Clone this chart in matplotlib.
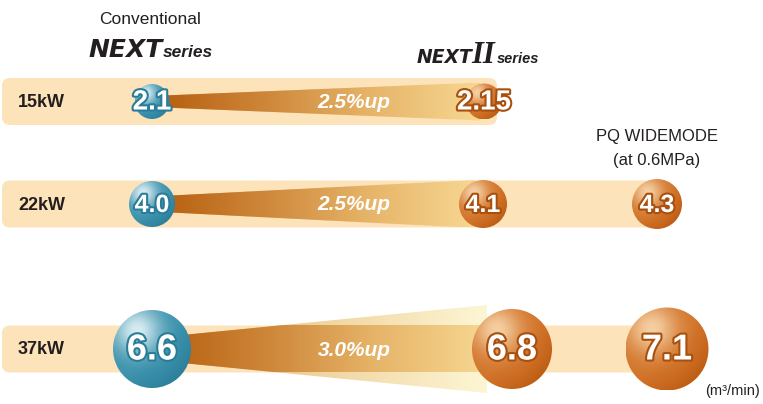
import numpy as np
import matplotlib
matplotlib.use("Agg")
import matplotlib.pyplot as plt
from matplotlib.patches import Circle, Polygon, FancyBboxPatch
import matplotlib.patheffects as pe
from matplotlib.colors import to_rgb

# ---------------- data ----------------
rows = ["15kW", "22kW", "37kW"]
conventional = [2.1, 4.0, 6.6]
next2 = [2.15, 4.1, 6.8]
pq_widemode = [None, 4.3, 7.1]
improvement = ["2.5%up", "2.5%up", "3.0%up"]
unit_label = "(m³/min)"

# ---------------- layout / style ----------------
W, H = 763, 404
col_x = [[152, 484, None], [152, 483, 657], [152, 512, 667]]
row_y = [101.5, 204, 349]
band_half = 23.5
band_end = [497, 655, 645]
radius = [[17.5, 18, 0], [23, 24, 25], [39, 40, 41.5]]
num_fs = [[20, 20, 0], [18, 18, 18], [26, 26, 26]]
wedge_hl = [5.5, 7.5, 11]
wedge_hr = [19, 24, 44]
wedge_x1 = [480, 475, 487]
BAND = "#fde3ba"
DARK = "#231f20"

fig = plt.figure(figsize=(W / 100, H / 100), dpi=100)
ax = fig.add_axes([0, 0, 1, 1])
ax.set_xlim(0, W)
ax.set_ylim(H, 0)
ax.axis("off")

SANS = ["Liberation Sans", "DejaVu Sans"]


def hgrad(colors, n=256):
    cs = np.array([to_rgb(c) for c in colors])
    t = np.linspace(0, 1, n)
    pos = np.linspace(0, 1, len(cs))
    rgb = np.stack([np.interp(t, pos, cs[:, k]) for k in range(3)], axis=-1)
    return rgb[None, :, :]


def sphere(cx, cy, r, base, light, dark, z=5):
    n = 160
    u, v = np.meshgrid(np.linspace(-1, 1, n), np.linspace(-1, 1, n))
    b = np.array(to_rgb(base)); l = np.array(to_rgb(light)); d = np.array(to_rgb(dark))
    dh = np.sqrt((u + 0.38) ** 2 + (v + 0.48) ** 2)
    w = np.exp(-(dh / 0.6) ** 2)[..., None]
    img = b * (1 - w) + l * w
    dd = np.clip((u + v) / 1.6, 0, 1)[..., None] * np.clip(np.sqrt(u**2 + v**2), 0, 1)[..., None]
    img = img * (1 - dd) + d * dd
    circ = Circle((cx, cy), r, transform=ax.transData, facecolor="none", edgecolor="none")
    ax.add_patch(circ)
    im = ax.imshow(img, extent=(cx - r, cx + r, cy + r, cy - r), zorder=z,
                   interpolation="bilinear", aspect="auto")
    im.set_clip_path(circ)


def num_text(x, y, s, fs, stroke):
    ax.text(x, y + 1, s, ha="center", va="center", fontsize=fs, color="white",
            fontweight="bold", family=SANS, zorder=8,
            path_effects=[pe.withStroke(linewidth=3, foreground=stroke)])


def fmt(v):
    return f"{v:.2f}" if round(v, 1) != v else f"{v:.1f}"


for i, row in enumerate(rows):
    yc = row_y[i]
    band = FancyBboxPatch((2, yc - band_half), band_end[i] - 2, 2 * band_half,
                          boxstyle="round,pad=0,rounding_size=8",
                          facecolor=BAND, edgecolor="none", zorder=1)
    ax.add_patch(band)
    x0, x1 = col_x[i][0], wedge_x1[i]
    hl, hr = wedge_hl[i], wedge_hr[i]
    poly = Polygon([(x0, yc - hl), (x1, yc - hr), (x1, yc + hr), (x0, yc + hl)],
                   closed=True, facecolor="none", edgecolor="none", transform=ax.transData)
    ax.add_patch(poly)
    pale = ax.imshow(hgrad(["#d9a060", "#f0d4a0", "#fdf6d4"]),
                     extent=(x0, x1, yc + hr, yc - hr), zorder=2, aspect="auto",
                     interpolation="bilinear")
    pale.set_clip_path(poly)
    strong = ax.imshow(hgrad(["#b55c0c", "#cd8538", "#e6b468", "#f7d792"]),
                       extent=(x0, x1, yc + band_half, yc - band_half), zorder=3,
                       aspect="auto", interpolation="bilinear")
    strong.set_clip_path(poly)

    ax.text(18, yc + 1, row, ha="left", va="center", fontsize=13, fontweight="bold",
            color=DARK, family=SANS, zorder=8)
    ax.text(354, yc + 1, improvement[i], ha="center", va="center", fontsize=15,
            fontweight="bold", fontstyle="italic", color="white", family=SANS, zorder=8)

    sphere(col_x[i][0], yc, radius[i][0], "#3a91ac", "#d8ecf2", "#2a7d98")
    num_text(col_x[i][0], yc, fmt(conventional[i]), num_fs[i][0], "#2a7d98")
    sphere(col_x[i][1], yc, radius[i][1], "#d2742a", "#f5cfa2", "#bb5a10")
    num_text(col_x[i][1], yc, fmt(next2[i]), num_fs[i][1], "#a9500e")
    if pq_widemode[i] is not None:
        sphere(col_x[i][2], yc, radius[i][2], "#d2742a", "#f5cfa2", "#bb5a10")
        num_text(col_x[i][2], yc, fmt(pq_widemode[i]), num_fs[i][2], "#a9500e")

# headers
ax.text(150, 19, "Conventional", ha="center", va="center", fontsize=12.5,
        color=DARK, family=SANS)

fig.canvas.draw()
renderer = fig.canvas.get_renderer()


def right_edge(t):
    bb = t.get_window_extent(renderer)
    return ax.transData.inverted().transform((bb.x1, bb.y0))[0]


t1 = ax.text(88, 57, "NEXT", ha="left", va="baseline", fontsize=18, fontweight="bold",
             fontstyle="italic", color=DARK, family=["DejaVu Sans"])
ax.text(right_edge(t1) + 1, 57, "series", ha="left", va="baseline", fontsize=12.5,
        fontweight="bold", fontstyle="italic", color=DARK, family=SANS)

t2 = ax.text(417, 63, "NEXT", ha="left", va="baseline", fontsize=13.5, fontweight="bold",
             fontstyle="italic", color=DARK, family=["DejaVu Sans"])
t3 = ax.text(right_edge(t2) - 1, 63, "II", ha="left", va="baseline", fontsize=22,
             fontstyle="italic", fontweight="bold", color=DARK,
             family=["Liberation Serif", "DejaVu Serif"])
ax.text(right_edge(t3) + 1, 63, "series", ha="left", va="baseline", fontsize=10.5,
        fontweight="bold", fontstyle="italic", color=DARK, family=SANS)

ax.text(657, 137, "PQ WIDEMODE", ha="center", va="center", fontsize=12,
        color=DARK, family=SANS)
ax.text(657, 160, "(at 0.6MPa)", ha="center", va="center", fontsize=12,
        color=DARK, family=SANS)
ax.text(732, 391, unit_label, ha="center", va="center", fontsize=10.5,
        color=DARK, family=SANS)

fig.savefig("out.png", dpi=100)
